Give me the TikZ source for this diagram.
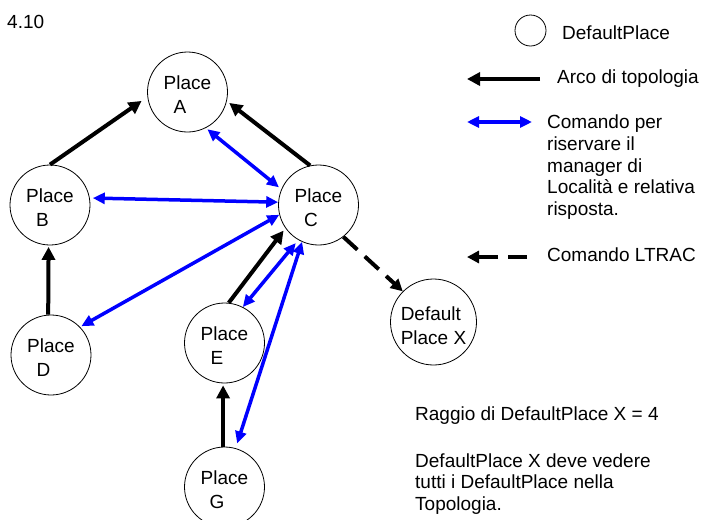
\documentclass[tikz,border=0pt]{standalone}
\usepackage{fontspec}
\setmainfont{Liberation Sans}
\usetikzlibrary{arrows.meta}
\definecolor{cmdblue}{RGB}{0,0,255}
\newcommand\lbl{\fontsize{19}{21.8}\selectfont}
\newcommand\plbl{\fontsize{19}{24}\selectfont}
% two-line place label; the second line sits a little left of centre
\newcommand\plc[1]{\rule{0pt}{18.6pt}Place\\#1\kern15pt}
\begin{document}
\begin{tikzpicture}[x=1pt,y=-1pt,
  every node/.style={font=\lbl},
  place/.style={circle, draw, line width=0.8pt, minimum size=80pt, inner sep=0pt, align=center, font=\plbl},
  txt/.style={anchor=base west, inner sep=0pt, align=left},
  topo/.style={line width=4pt, -{Triangle[length=13pt,width=13pt]}},
  cmd/.style={line width=3.5pt, draw=cmdblue, {Triangle[length=12pt,width=11pt]}-{Triangle[length=12pt,width=11pt]}},
  ltrac/.style={line width=4pt, dash pattern=on 19pt off 10pt, -{Triangle[length=12pt,width=12pt]}}]
% page area
\fill[white] (0,0) rectangle (705,520);
\useasboundingbox (0,0) rectangle (705,520);

\node[txt] (title) at (7,28.3) {4.10};

% places of the topology
\node[place] (A) at (187.5,92)  {\plc{A}};
\node[place] (B) at (50,205)    {\plc{B}};
\node[place] (C) at (318.5,205) {\plc{C}};
\node[place] (D) at (51,355)    {\plc{D}};
\node[place] (E) at (224.5,343) {\plc{E}};
\node[place] (G) at (224.5,487) {\plc{G}};
\node[place, minimum size=86pt, align=left] (X) at (433.5,322) {\rule{0pt}{21pt}Default\\Place X};

% topology arcs
\draw[topo, shorten >=7pt] (B.90) -- (A.187);
\draw[topo, shorten >=3pt] (C.102) -- (A.-13);
\draw[topo, shorten >=3pt] (E.84) -- (C.215);
\draw[topo, shorten >=2pt] (G.92) -- (E.268);
\draw[topo, shorten >=1.5pt] (D.94) -- (B.268);

% reservation commands
\draw[cmd, shorten <=2pt, shorten >=3pt] (A.-63) -- (C.157);
\draw[cmd, shorten <=3pt] (B.10) -- (C.176);
\draw[cmd, shorten <=1.5pt] (D.44) -- (C.194);
\draw[cmd, shorten >=4pt] (E.63) -- (C.240);
\draw[cmd, shorten <=5pt] (G.74) -- (C.246);

% LTRAC command
\draw[ltrac] (C.-52) -- (X.135);

% legend
\node[circle, draw, line width=0.8pt, minimum size=31pt, inner sep=0pt] (keyplace) at (530.5,30.5) {};
\node[txt] (keyplacetxt) at (562,39.3) {DefaultPlace};

\coordinate (k1a) at (540,79);
\coordinate (k1b) at (467,79);
\draw[topo] (k1a) -- (k1b);
\node[txt] (k1txt) at (557,83.3) {Arco di topologia};

\coordinate (k2a) at (467,122);
\coordinate (k2b) at (532,122);
\draw[cmd] (k2a) -- (k2b);
% multi-line nodes are placed by the baseline of their last line
\node[txt] (k2txt) at (547,215.7) {Comando per\\riservare il\\manager di\\Località e relativa\\risposta.};

\coordinate (k3a) at (527,257);
\coordinate (k3b) at (467,257);
\draw[ltrac] (k3a) -- (k3b);
\node[txt] (k3txt) at (547,261.7) {Comando LTRAC};

% notes
\node[txt] (note1) at (415,420) {Raggio di DefaultPlace X = 4};
\node[txt] (note2) at (415,510.6) {DefaultPlace X deve vedere\\tutti i DefaultPlace nella\\Topologia.};
\end{tikzpicture}
\end{document}
